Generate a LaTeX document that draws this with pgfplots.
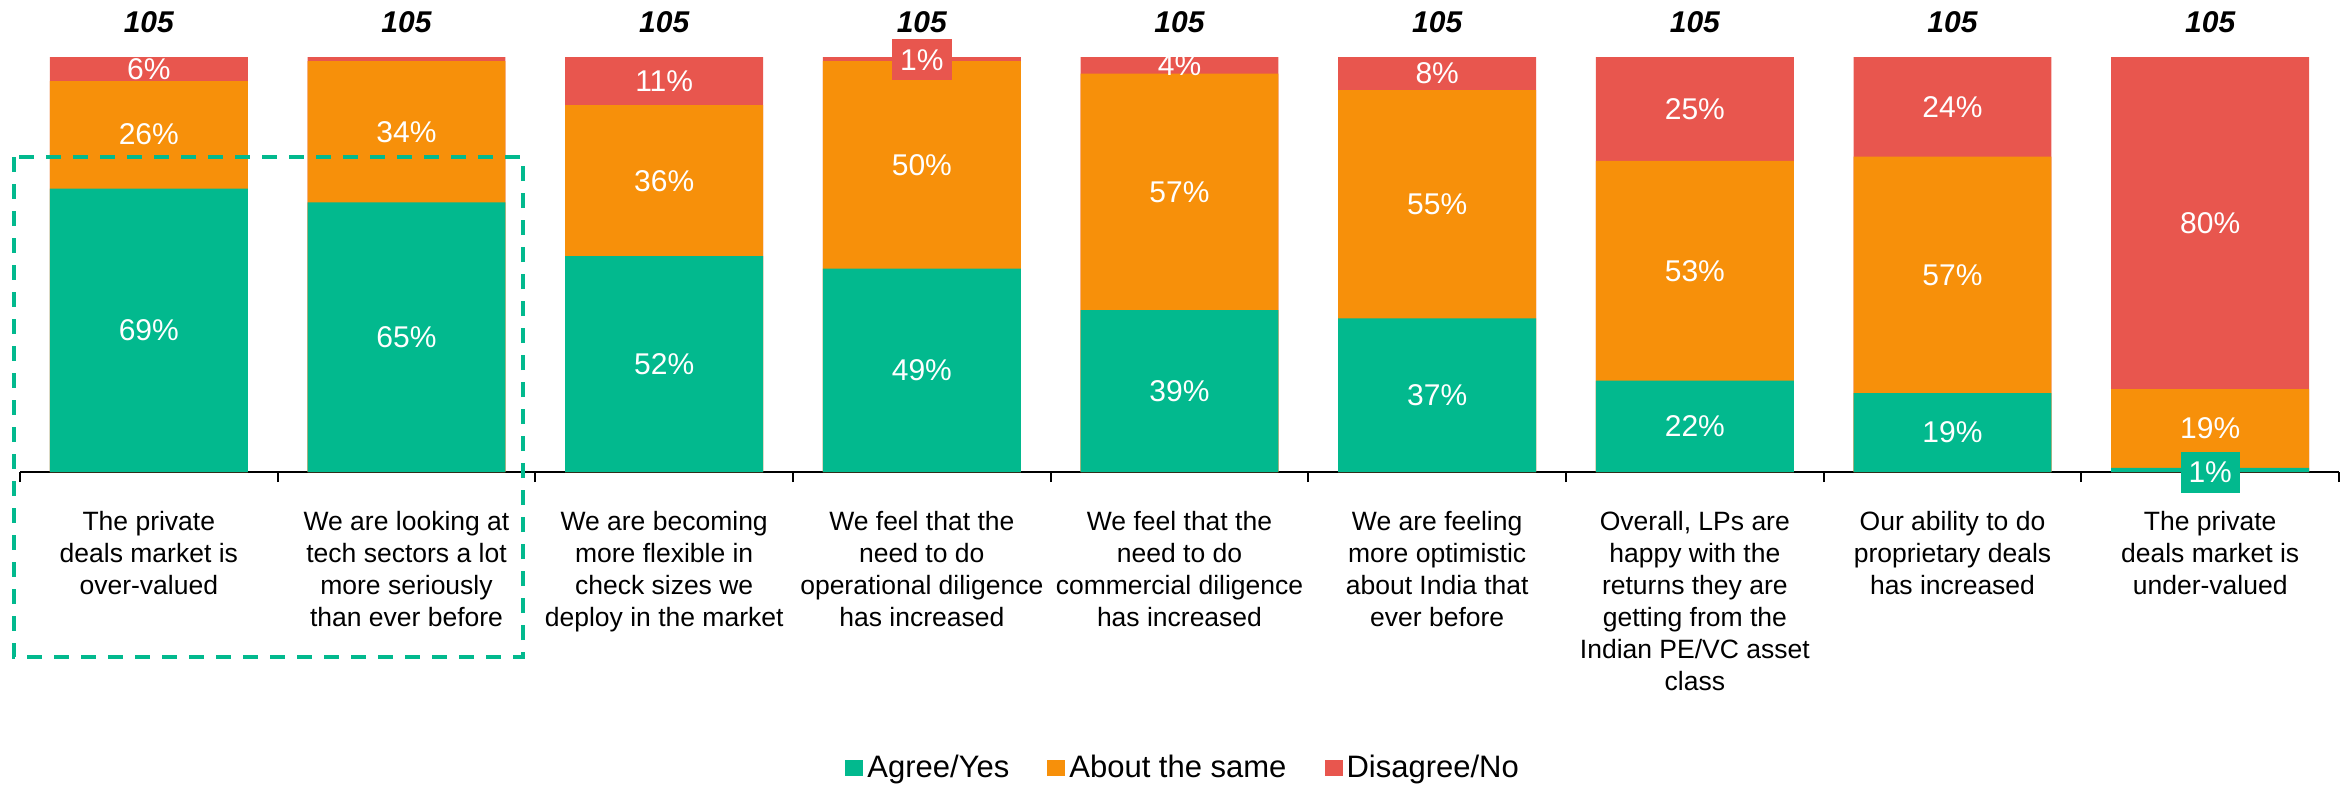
\documentclass[border=0pt]{standalone}
\usepackage{fontspec}
\setmainfont{Liberation Sans}
\usepackage{pgfplots}
\pgfplotsset{compat=1.18}
\usetikzlibrary{calc}

\definecolor{cgreen}{RGB}{2,185,142}
\definecolor{corange}{RGB}{247,144,10}
\definecolor{cred}{RGB}{232,86,78}

\pgfplotsset{
  segbar/.style={ybar, bar width=0.768, bar shift=0pt, draw=none, fill=#1,
    legend image code/.code={\fill[fill=#1] (0pt,-4pt) rectangle (9pt,4pt);}},
  seglab/.style={forget plot, only marks, mark=none, nodes near coords,
    point meta=explicit symbolic,
    nodes near coords style={anchor=center, text=white, font=\fontsize{15}{18}\selectfont}},
}

\begin{document}
\begin{tikzpicture}
\begin{axis}[
    name=ax,
    width=1159.5pt, height=207.5pt, scale only axis,
    xmin=-0.5, xmax=8.5, ymin=0, ymax=100,
    clip=false,
    axis x line*=bottom, axis y line=none,
    x axis line style={line width=1pt, black},
    xtick={0,...,8},
    xticklabels={
      {The private\\deals market is\\over-valued},
      {We are looking at\\tech sectors a lot\\more seriously\\than ever before},
      {We are becoming\\more flexible in\\check sizes we\\deploy in the market},
      {We feel that the\\need to do\\operational diligence\\has increased},
      {We feel that the\\need to do\\commercial diligence\\has increased},
      {We are feeling\\more optimistic\\about India that\\ever before},
      {Overall, LPs are\\happy with the\\returns they are\\getting from the\\Indian PE/VC asset\\class},
      {Our ability to do\\proprietary deals\\has increased},
      {The private\\deals market is\\under-valued}},
    minor xtick={-0.5,0.5,...,8.5},
    major tick length=0pt, minor tick length=5pt, tick align=outside,
    minor tick style={line width=1pt, black},
    xticklabel style={align=center, anchor=north, yshift=-16pt,
      font=\fontsize{13.25}{16}\selectfont},
    reverse legend,
    legend style={at={(0.502,-0.712)}, anchor=center, draw=none,
      legend columns=-1, font=\fontsize{15.5}{18}\selectfont,
      /tikz/every even column/.append style={column sep=17pt}},
]
% bars drawn back to front at cumulative heights
\addplot[segbar=cred] coordinates {(0,100) (1,100) (2,100) (3,100) (4,100) (5,100) (6,100) (7,100) (8,100)};
\addlegendentry{Disagree/No}
\addplot[segbar=corange] coordinates {(0,94.2) (1,99) (2,88.4) (3,99) (4,96) (5,92) (6,75) (7,76) (8,20)};
\addlegendentry{About the same}
\addplot[segbar=cgreen] coordinates {(0,68.3) (1,65) (2,52) (3,49) (4,39) (5,37) (6,22) (7,19) (8,1)};
\addlegendentry{Agree/Yes}

% segment labels
\addplot[seglab] coordinates {(0,34.2)[69\%] (1,32.5)[65\%] (2,26)[52\%] (3,24.5)[49\%] (4,19.5)[39\%] (5,18.5)[37\%] (6,11)[22\%] (7,9.5)[19\%]};
\addplot[seglab] coordinates {(0,81.3)[26\%] (1,82)[34\%] (2,70.2)[36\%] (3,74)[50\%] (4,67.5)[57\%] (5,64.5)[55\%] (6,48.5)[53\%] (7,47.5)[57\%] (8,10.5)[19\%]};
\addplot[seglab] coordinates {(0,97.1)[6\%] (2,94.2)[11\%] (4,98)[4\%] (5,96)[8\%] (6,87.5)[25\%] (7,88)[24\%] (8,60)[80\%]};
\addplot[seglab, nodes near coords style={fill=cred, inner xsep=4pt, inner ysep=5pt}] coordinates {(3,99.3)[1\%]};
\addplot[seglab, nodes near coords style={fill=cgreen, inner xsep=4pt, inner ysep=5pt}] coordinates {(8,0)[1\%]};

% sample sizes
\addplot[seglab, nodes near coords style={text=black, font=\fontsize{15}{18}\selectfont\bfseries\itshape}]
  coordinates {(0,108.4)[105] (1,108.4)[105] (2,108.4)[105] (3,108.4)[105] (4,108.4)[105] (5,108.4)[105] (6,108.4)[105] (7,108.4)[105] (8,108.4)[105]};

\draw[cgreen, line width=2pt, dash pattern=on 7.5pt off 6pt] (axis cs:-0.523,75.9) rectangle (axis cs:1.452,-44.6);
\end{axis}
\pgfresetboundingbox
\path[use as bounding box] ($(ax.south west)+(-10pt,-156pt)$) rectangle ($(ax.north east)+(6.5pt,28.5pt)$);
\end{tikzpicture}
\end{document}
